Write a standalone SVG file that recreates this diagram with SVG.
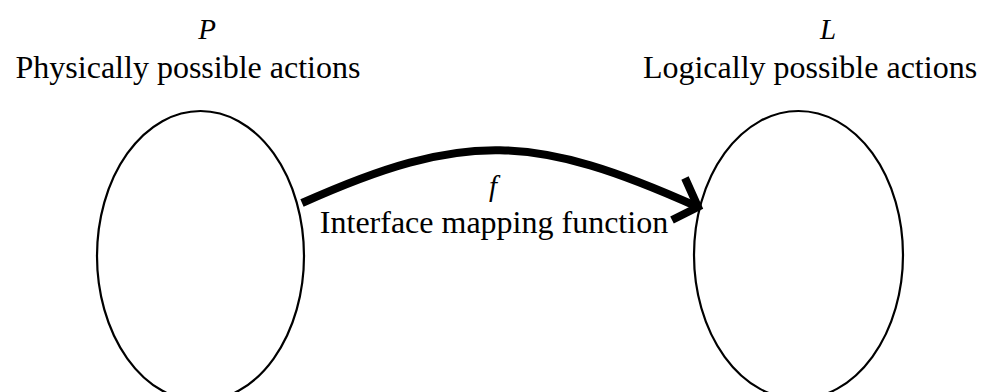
<svg xmlns="http://www.w3.org/2000/svg" width="984" height="392" viewBox="0 0 984 392">
<style>
.t{font-family:"Liberation Serif","Times New Roman",serif;font-size:32px;fill:#000;text-anchor:middle}
.i{font-family:"Liberation Serif","Times New Roman",serif;font-size:29px;font-style:italic;fill:#000;text-anchor:middle}
.e{fill:#fff;stroke:#000;stroke-width:2.2}
.c{fill:none;stroke:#000;stroke-width:8}
</style>
<rect width="984" height="392" fill="#fff"/>
<g id="node-P">
<ellipse class="e" cx="200.5" cy="256" rx="103.5" ry="145"/>
<text class="i" x="207" y="39">P</text>
<text class="t" x="188" y="78">Physically possible actions</text>
</g>
<g id="node-L">
<ellipse class="e" cx="798.5" cy="255" rx="104.5" ry="144"/>
<text class="i" x="828" y="39">L</text>
<text class="t" x="810" y="78">Logically possible actions</text>
</g>
<g id="connectors">
<path class="c" d="M302,203 C465,130 535,134 698,207"/>
<polyline class="c" points="685,178 698,207 672,220" stroke-linejoin="miter"/>
<text class="i" x="493" y="196">f</text>
<text class="t" x="494" y="233">Interface mapping function</text>
</g>
</svg>
